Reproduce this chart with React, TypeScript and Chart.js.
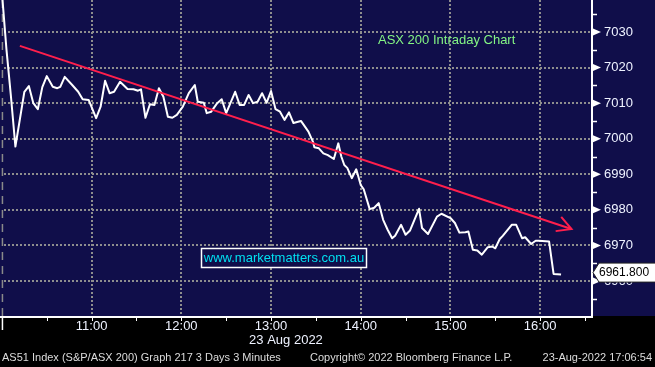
import React, { useEffect, useRef } from 'react';
import { Chart, registerables } from 'chart.js';

Chart.register(...registerables);

// ---- Data (minutes after 10:00, index level) ----
const priceMinutes = [
  0, 3, 6, 9, 15, 18, 21, 24, 27, 30, 34, 37, 39, 42, 47, 51, 54, 58, 63, 66, 69, 72, 75, 79, 84, 88, 91, 93,
  96, 99, 102, 105, 108, 111, 114, 117, 121, 125, 129, 131, 135, 137, 140, 144, 147, 150, 156, 159, 162, 165,
  168, 171, 174, 177, 180, 183, 186, 189, 192, 195, 200, 205, 208, 209, 212, 215, 218, 222, 225, 227, 229, 231,
  234, 237, 240, 242, 246, 249, 252, 255, 258, 261, 263, 267, 270, 273, 279, 281, 285, 291, 294, 300, 303, 306,
  310, 312, 315, 318, 321, 325, 328, 330, 333, 335, 341, 344, 348, 350, 354, 357, 359, 366, 369, 374,
];
const priceValues = [
  7041, 7025.2, 7012, 6997.8, 7013.2, 7014.8, 7010, 7008.3, 7014.5, 7017.6, 7014.6, 7014.2, 7014.6, 7017.4,
  7015.1, 7013.2, 7011.1, 7010.9, 7005.8, 7009, 7016.3, 7012.8, 7013.2, 7016, 7014, 7013.9, 7013.5, 7013.9,
  7005.9, 7009.7, 7009.5, 7014.2, 7011.8, 7006.2, 7005.9, 7006.7, 7009, 7012.8, 7015.1, 7010.4, 7010.1, 7007.2,
  7007.6, 7010, 7011.1, 7007.2, 7013.2, 7009.5, 7009.5, 7012.3, 7010, 7010.4, 7012.8, 7010.1, 7013.4, 7008.3,
  7007.6, 7005.3, 7007.4, 7004.4, 7005, 7002, 6999.2, 6997.6, 6997.3, 6995.9, 6995.4, 6994.3, 6998.7, 6995,
  6992.6, 6991.8, 6988.9, 6991.4, 6987, 6985.8, 6980.2, 6980.6, 6981.9, 6977.2, 6974.4, 6972, 6972.7, 6975.8,
  6973, 6974.2, 6980.3, 6974.9, 6973.2, 6978.1, 6978.9, 6977.7, 6976.3, 6973.6, 6973.7, 6973.9, 6968.8, 6968.6,
  6967.4, 6969.5, 6969.7, 6969.2, 6971.8, 6972.7, 6975.8, 6975.8, 6972, 6972.3, 6970.4, 6971.3, 6971.3, 6971.1,
  6962, 6961.8,
];
const trendMinutes = [12, 381];
const trendValues = [7026.1, 6974.6];
const lastPrice = 6961.8;

const hourTicks = [60, 120, 180, 240, 300, 360];
const hourLabels = ['11:00', '12:00', '13:00', '14:00', '15:00', '16:00'];
const yGridValues = [6960, 6970, 6980, 6990, 7000, 7010, 7020, 7030];
const yMinorValues = [6955, 6965, 6975, 6985, 6995, 7005, 7015, 7025, 7035];
const halfHourTicks = [30, 60, 90, 120, 150, 180, 210, 240, 270, 300, 330, 360, 390];

const titleText = 'ASX 200 Intraday Chart';
const urlText = 'www.marketmatters.com.au';
const dateLabel = '23 Aug 2022';
const footerLeft = 'AS51 Index (S&P/ASX 200) Graph 217 3 Days 3 Minutes';
const footerMid = 'Copyright\u00A9 2022 Bloomberg Finance L.P.';
const footerRight = '23-Aug-2022 17:06:54';

const FONT = "'Liberation Sans', Arial, sans-serif";
const NAVY = '#100e4a';

const decorPlugin = {
  id: 'decor',
  beforeDraw(chart: any) {
    const { ctx, width, height, chartArea } = chart;
    ctx.save();
    ctx.fillStyle = '#000000';
    ctx.fillRect(0, 0, width, height);
    ctx.fillStyle = NAVY;
    ctx.fillRect(0, 0, width, chartArea.bottom);
    ctx.restore();
  },
  beforeDatasetsDraw(chart: any) {
    const { ctx, chartArea, scales } = chart;
    const xs = scales.x;
    const ys = scales.y;
    const { left, right, top, bottom } = chartArea;
    ctx.save();
    // dotted grid
    ctx.strokeStyle = '#8e8e8e';
    ctx.lineWidth = 2;
    ctx.setLineDash([2, 2]);
    yGridValues.forEach((v) => {
      const y = Math.round(ys.getPixelForValue(v));
      ctx.beginPath();
      ctx.moveTo(left + 4, y);
      ctx.lineTo(right, y);
      ctx.stroke();
    });
    hourTicks.forEach((m) => {
      const x = Math.round(xs.getPixelForValue(m));
      ctx.beginPath();
      ctx.moveTo(x, top);
      ctx.lineTo(x, bottom);
      ctx.stroke();
    });
    // left dashed day separator
    ctx.lineWidth = 1.5;
    ctx.strokeStyle = '#8a8a8a';
    ctx.setLineDash([8, 6]);
    const x0 = xs.getPixelForValue(0) + 0.5;
    ctx.beginPath();
    ctx.moveTo(x0, top);
    ctx.lineTo(x0, bottom);
    ctx.stroke();
    ctx.setLineDash([]);
    // axis lines
    ctx.strokeStyle = '#ffffff';
    ctx.lineWidth = 2;
    ctx.beginPath();
    ctx.moveTo(0, bottom + 1);
    ctx.lineTo(right + 1, bottom + 1);
    ctx.moveTo(right, top);
    ctx.lineTo(right, bottom + 1);
    ctx.stroke();
    // bottom ticks
    ctx.lineWidth = 1;
    halfHourTicks.forEach((m) => {
      const x = Math.round(xs.getPixelForValue(m)) + 0.5;
      ctx.beginPath();
      ctx.moveTo(x, bottom + 1);
      ctx.lineTo(x, bottom + 5);
      ctx.stroke();
    });
    ctx.lineWidth = 1.5;
    ctx.beginPath();
    ctx.moveTo(x0, bottom + 1);
    ctx.lineTo(x0, bottom + 14);
    ctx.stroke();
    // right minor ticks
    ctx.lineWidth = 1.5;
    yMinorValues.forEach((v) => {
      const y = Math.round(ys.getPixelForValue(v)) + 0.5;
      if (y < top || y > bottom) return;
      ctx.beginPath();
      ctx.moveTo(right, y);
      ctx.lineTo(right + 5, y);
      ctx.stroke();
    });
    // right major markers (triangles)
    ctx.fillStyle = '#ffffff';
    yGridValues.forEach((v) => {
      const y = ys.getPixelForValue(v);
      ctx.beginPath();
      ctx.moveTo(right + 1, y - 3.5);
      ctx.lineTo(right + 1, y + 3.5);
      ctx.lineTo(right + 9, y);
      ctx.closePath();
      ctx.fill();
    });
    ctx.restore();
  },
  afterDraw(chart: any) {
    const { ctx, chartArea, scales, width } = chart;
    const xs = scales.x;
    const ys = scales.y;
    const { right, bottom } = chartArea;
    ctx.save();
    // arrow head on trend line
    const tx0 = xs.getPixelForValue(trendMinutes[0]);
    const ty0 = ys.getPixelForValue(trendValues[0]);
    const tx1 = xs.getPixelForValue(trendMinutes[1]);
    const ty1 = ys.getPixelForValue(trendValues[1]);
    const ang = Math.atan2(ty1 - ty0, tx1 - tx0);
    const len = 16;
    ctx.strokeStyle = '#ff1f4c';
    ctx.lineWidth = 2;
    ctx.beginPath();
    ctx.moveTo(tx1 + len * Math.cos(ang + Math.PI - 0.45), ty1 + len * Math.sin(ang + Math.PI - 0.45));
    ctx.lineTo(tx1, ty1);
    ctx.lineTo(tx1 + len * Math.cos(ang + Math.PI + 0.55), ty1 + len * Math.sin(ang + Math.PI + 0.55));
    ctx.stroke();

    // title
    ctx.font = `13px ${FONT}`;
    ctx.fillStyle = '#84f584';
    ctx.textAlign = 'left';
    ctx.textBaseline = 'middle';
    ctx.fillText(titleText, 378, 40);

    // url box
    ctx.fillStyle = NAVY;
    ctx.fillRect(201.5, 248.5, 165, 19);
    ctx.strokeStyle = '#ffffff';
    ctx.lineWidth = 1.5;
    ctx.strokeRect(201.5, 248.5, 165, 19);
    ctx.fillStyle = '#00e0f0';
    ctx.font = `13px ${FONT}`;
    ctx.textAlign = 'center';
    ctx.fillText(urlText, 284, 258.5);

    // last price box
    const ly = ys.getPixelForValue(lastPrice) - 2;
    ctx.fillStyle = '#ffffff';
    ctx.strokeStyle = '#222222';
    ctx.lineWidth = 1;
    ctx.beginPath();
    ctx.moveTo(right + 1, ly);
    ctx.lineTo(right + 7, ly - 9.5);
    ctx.lineTo(width + 2, ly - 9.5);
    ctx.lineTo(width + 2, ly + 9.5);
    ctx.lineTo(right + 7, ly + 9.5);
    ctx.closePath();
    ctx.fill();
    ctx.stroke();
    ctx.fillStyle = '#000000';
    ctx.font = `12px ${FONT}`;
    ctx.textAlign = 'left';
    ctx.fillText(lastPrice.toFixed(3), right + 7, ly + 0.5);

    // date label
    ctx.fillStyle = '#eef2ff';
    ctx.font = `13px ${FONT}`;
    ctx.textAlign = 'center';
    ctx.fillText(dateLabel, xs.getPixelForValue(190), bottom + 24);

    // footer
    ctx.fillStyle = '#dcdcdc';
    ctx.font = `11px ${FONT}`;
    ctx.textAlign = 'left';
    ctx.fillText(footerLeft, 2, bottom + 42);
    ctx.fillText(footerMid, 310, bottom + 42);
    ctx.textAlign = 'right';
    ctx.fillText(footerRight, 652, bottom + 42);
    ctx.restore();
  },
};

export default function App() {
  const canvasRef = useRef<HTMLCanvasElement | null>(null);

  useEffect(() => {
    const canvas = canvasRef.current;
    if (!canvas) return;
    const chart = new Chart(canvas, {
      type: 'line',
      data: {
        datasets: [
          {
            label: 'Trend',
            data: trendMinutes.map((m, i) => ({ x: m, y: trendValues[i] })),
            borderColor: '#ff1f4c',
            borderWidth: 2,
            pointRadius: 0,
            tension: 0,
          },
          {
            label: 'AS51',
            data: priceMinutes.map((m, i) => ({ x: m, y: priceValues[i] })),
            borderColor: '#ffffff',
            borderWidth: 2,
            pointRadius: 0,
            tension: 0,
            borderJoinStyle: 'round',
          },
        ],
      },
      options: {
        animation: false,
        responsive: false,
        devicePixelRatio: 1,
        layout: { padding: 0 },
        plugins: { legend: { display: false }, tooltip: { enabled: false } },
        events: [],
        scales: {
          x: {
            type: 'linear',
            position: 'bottom',
            min: -1.3,
            max: 394.7,
            afterFit: (s: any) => {
              s.height = 51;
              s.paddingLeft = 0;
              s.paddingRight = 0;
            },
            grid: { display: false, drawTicks: false },
            border: { display: false },
            ticks: {
              stepSize: 60,
              autoSkip: false,
              maxRotation: 0,
              includeBounds: false,
              padding: 3,
              color: '#eef2ff',
              font: { family: FONT, size: 13 },
              callback: (v: any) => {
                const idx = hourTicks.indexOf(Number(v));
                return idx >= 0 ? hourLabels[idx] : '';
              },
            },
          },
          y: {
            type: 'linear',
            position: 'right',
            min: 6950.16,
            max: 7039.0,
            afterFit: (s: any) => {
              s.width = 63;
              s.paddingTop = 0;
              s.paddingBottom = 0;
            },
            grid: { display: false, drawTicks: false },
            border: { display: false },
            ticks: {
              stepSize: 10,
              includeBounds: false,
              padding: 12,
              color: '#eef2ff',
              font: { family: FONT, size: 13 },
              callback: (v: any) => String(v),
            },
          },
        },
      },
      plugins: [decorPlugin],
    } as any);
    return () => chart.destroy();
  }, []);

  return (
    <div style={{ position: 'fixed', left: 0, top: 0, width: 655, height: 367 }}>
      <canvas ref={canvasRef} width={655} height={367} style={{ display: 'block' }} />
    </div>
  );
}
